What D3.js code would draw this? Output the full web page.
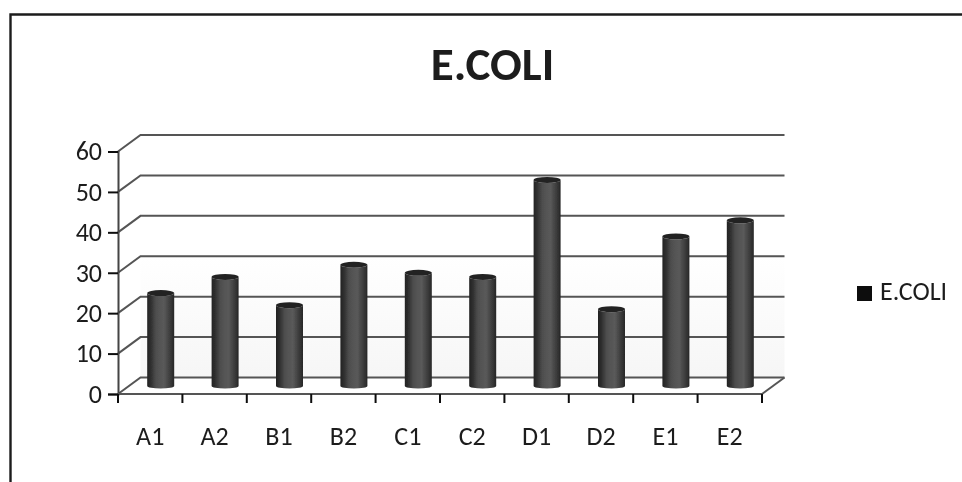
<!DOCTYPE html>
<html><head><meta charset="utf-8">
<script src="https://cdn.jsdelivr.net/npm/d3@7"></script>
<style>html,body{margin:0;padding:0;background:#fff}svg{display:block}text{font-family:Carlito,Lato,"Open Sans",sans-serif;fill:#1c1c1c}</style>
</head><body>
<svg id="c" width="962" height="482"></svg>
<script>
const categories=["A1","A2","B1","B2","C1","C2","D1","D2","E1","E2"];
const values=[23,27,20,30,28,27,51,19,37,41];
const yTicks=[0,10,20,30,40,50,60];
const seriesName="E.COLI";
const titleText="E.COLI";

const FONT='Carlito,Lato,"Open Sans",sans-serif';
const svg=d3.select("#c");
const dx=22.5,dy=-16.5;
const x=d3.scaleBand().domain(categories).range([118,762]);
const y=d3.scaleLinear().domain([0,60]).range([394,151.5]);

const defs=svg.append("defs");
const g=defs.append("linearGradient").attr("id","cyl");
[[0,"#222222"],[.14,"#303030"],[.32,"#4e4e4e"],[.62,"#5a5a5a"],[.86,"#3a3a3a"],[1,"#262626"]].forEach(s=>g.append("stop").attr("offset",s[0]).attr("stop-color",s[1]));
const f=defs.append("linearGradient").attr("id","floor").attr("x1",0).attr("x2",0).attr("y1",0).attr("y2",1);
f.append("stop").attr("offset",0).attr("stop-color","#ffffff");
f.append("stop").attr("offset",1).attr("stop-color","#f6f6f6");
defs.append("filter").attr("id","soft").append("feGaussianBlur").attr("stdDeviation",0.45);

const root=svg.append("g").attr("filter","url(#soft)");

// frame
root.append("path").attr("d",d3.line()([[10.5,482],[10.5,14.5],[962,14.5]])).attr("fill","none").attr("stroke","#1e1e1e").attr("stroke-width",2.4);

root.append("text").attr("x",492.5).attr("y",80).attr("text-anchor","middle").attr("font-size",47).attr("font-weight",700).text(titleText);

// back wall shading
root.append("rect").attr("x",x.range()[0]+dx).attr("y",y(30)+dy).attr("width",x.range()[1]-x.range()[0]).attr("height",y(0)-y(30)).attr("fill","url(#floor)");

// gridlines
const gridLine=d3.line();
root.append("g").selectAll("path").data(yTicks).join("path")
 .attr("d",t=>gridLine([[x.range()[0],y(t)],[x.range()[0]+dx,y(t)+dy],[x.range()[1]+dx,y(t)+dy]]))
 .attr("fill","none").attr("stroke","#555").attr("stroke-width",2);
root.append("path").attr("d",gridLine([[x.range()[1],y(0)],[x.range()[1]+dx,y(0)+dy]])).attr("fill","none").attr("stroke","#555").attr("stroke-width",2);

// axes
const ax=root.append("g").attr("transform",`translate(118,0)`).call(d3.axisLeft(y).tickValues(yTicks).tickSize(10).tickPadding(6));
ax.select(".domain").attr("stroke","#444").attr("stroke-width",2);
ax.selectAll(".tick line").attr("stroke","#111").attr("stroke-width",2);
ax.selectAll("text").attr("font-size",26).style("font-family",FONT).style("fill","#1c1c1c");

const ax2=root.append("g").attr("transform",`translate(0,394)`).call(d3.axisBottom(x).tickSize(0).tickPadding(33));
ax2.select(".domain").remove();
ax2.selectAll("text").attr("font-size",26).style("font-family",FONT).style("fill","#1c1c1c");
root.append("line").attr("x1",118).attr("x2",762).attr("y1",394).attr("y2",394).attr("stroke","#555").attr("stroke-width",2);
root.append("g").selectAll("line").data(d3.range(categories.length+1)).join("line")
 .attr("x1",i=>x.range()[0]+i*x.step()).attr("x2",i=>x.range()[0]+i*x.step())
 .attr("y1",394).attr("y2",403).attr("stroke","#111").attr("stroke-width",2);

// cylinders
const rx=13.5,ryTop=3,ryBase=2.5,base=386;
const h=d3.scaleLinear().domain([0,60]).range([0,y(0)-y(60)]);
const bars=root.append("g").selectAll("g").data(values).join("g")
 .attr("transform",(d,i)=>`translate(${x(categories[i])+x.bandwidth()/2+10.5},0)`);
bars.append("path").attr("fill","url(#cyl)")
 .attr("d",d=>`M${-rx},${base-h(d)}V${base}A${rx},${ryBase} 0 0 0 ${rx},${base}V${base-h(d)}A${rx},${ryTop} 0 0 1 ${-rx},${base-h(d)}Z`);
bars.append("ellipse").attr("cx",0).attr("cy",d=>base-h(d)).attr("rx",rx).attr("ry",ryTop).attr("fill","#242424");

// legend
root.append("rect").attr("x",857).attr("y",286).attr("width",15).attr("height",15).attr("fill","#111");
root.append("text").attr("x",880).attr("y",300).attr("font-size",26).text(seriesName);
</script>
</body></html>
